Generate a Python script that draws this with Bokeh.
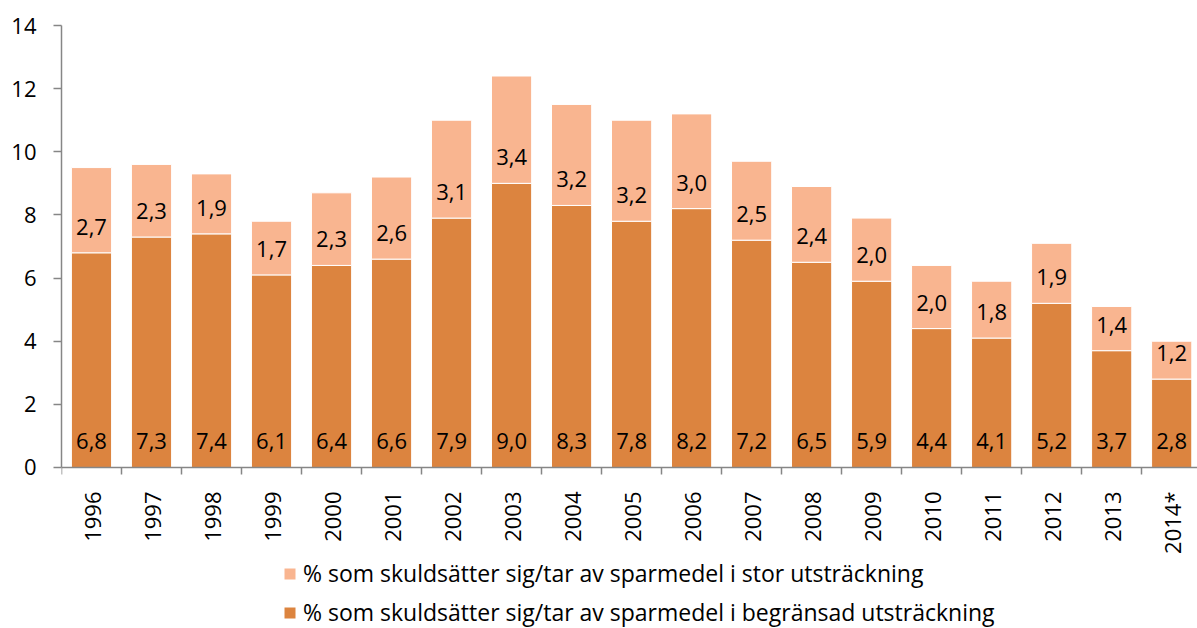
import math
from bokeh.plotting import figure
from bokeh.models import ColumnDataSource, FixedTicker, Legend, LegendItem, LabelSet, Range1d
from bokeh.core.properties import value
from bokeh.embed import file_html
from bokeh.resources import INLINE

years = ["1996", "1997", "1998", "1999", "2000", "2001", "2002", "2003", "2004", "2005",
         "2006", "2007", "2008", "2009", "2010", "2011", "2012", "2013", "2014*"]
limited = [6.8, 7.3, 7.4, 6.1, 6.4, 6.6, 7.9, 9.0, 8.3, 7.8, 8.2, 7.2, 6.5, 5.9, 4.4, 4.1, 5.2, 3.7, 2.8]
large = [2.7, 2.3, 1.9, 1.7, 2.3, 2.6, 3.1, 3.4, 3.2, 3.2, 3.0, 2.5, 2.4, 2.0, 2.0, 1.8, 1.9, 1.4, 1.2]
y_ticks = [0, 2, 4, 6, 8, 10, 12, 14]

name_large = "% som skuldsätter sig/tar av sparmedel i stor utsträckning"
name_limited = "% som skuldsätter sig/tar av sparmedel i begränsad utsträckning"

DARK = "#DC843F"
LIGHT = "#F9B590"
AXIS = "#868686"
FONT = "Open Sans"

xs = [i + 0.5 for i in range(len(years))]
total = [a + b for a, b in zip(limited, large)]
fmt = lambda v: f"{v:.1f}".replace(".", ",")

src = ColumnDataSource(dict(
    x=xs, limited=limited, large=large, total=total,
    zero=[0] * len(xs),
    lab_lim=[fmt(v) for v in limited],
    lab_large=[fmt(v) for v in large],
))

# The plot frame runs down to the bottom edge so that the legend (drawn inside
# the frame) can sit under the x axis, which is pinned at y = 0.
p = figure(width=1197, height=628, output_backend="svg", toolbar_location=None,
           x_range=Range1d(0, 18.93), y_range=Range1d(-5.1, 14),
           min_border_left=61, min_border_right=0, min_border_top=25, min_border_bottom=0)
p.outline_line_color = None
p.xgrid.visible = False
p.ygrid.visible = False
p.background_fill_color = "white"
p.border_fill_color = "white"

r_lim = p.vbar(x="x", bottom="zero", top="limited", width=0.67, source=src,
               fill_color=DARK, line_color="white", line_width=1)
r_large = p.vbar(x="x", bottom="limited", top="total", width=0.67, source=src,
                 fill_color=LIGHT, line_color="white", line_width=1)

for ycol, tcol in (("zero", "lab_lim"), ("limited", "lab_large")):
    ls = LabelSet(x="x", y=ycol, text=tcol, source=src, y_offset=26,
                  text_align="center", text_baseline="middle",
                  text_font=value(FONT), text_font_size="22px", text_color="black")
    p.add_layout(ls)

# x axis, pinned at y = 0
p.xaxis.fixed_location = 0
p.xaxis.ticker = FixedTicker(ticks=xs, minor_ticks=list(range(len(years) + 1)))
p.xaxis.major_label_overrides = {x: y for x, y in zip(xs, years)}
p.xaxis.major_label_orientation = math.pi / 2
p.xaxis.major_tick_line_color = None
p.xaxis.major_tick_out = 0
p.xaxis.major_tick_in = 0
p.xaxis.minor_tick_out = 7
p.xaxis.minor_tick_in = 0
p.xaxis.minor_tick_line_color = AXIS
p.xaxis.minor_tick_line_width = 1.5
p.xaxis.major_label_standoff = 17
p.xaxis.axis_line_color = AXIS
p.xaxis.axis_line_width = 1.5
p.xaxis.major_label_text_font = FONT
p.xaxis.major_label_text_font_size = "22px"
p.xaxis.major_label_text_color = "black"

# y axis
p.yaxis.bounds = (0, 14)
p.yaxis.ticker = FixedTicker(ticks=y_ticks, minor_ticks=[])
p.yaxis.major_tick_out = 8
p.yaxis.major_tick_in = 0
p.yaxis.major_tick_line_color = AXIS
p.yaxis.major_tick_line_width = 1.5
p.yaxis.axis_line_color = AXIS
p.yaxis.axis_line_width = 1.5
p.yaxis.major_label_standoff = 17
p.yaxis.major_label_text_font = FONT
p.yaxis.major_label_text_font_size = "22px"
p.yaxis.major_label_text_color = "black"

legend = Legend(items=[LegendItem(label=name_large, renderers=[r_large]),
                       LegendItem(label=name_limited, renderers=[r_lim])],
                location=(221, 0), orientation="vertical",
                label_text_font=FONT, label_text_font_size="23px", label_text_color="black",
                glyph_width=15, glyph_height=15, label_height=20, label_standoff=6,
                spacing=7, padding=0, margin=0,
                border_line_color=None, background_fill_alpha=0)
p.add_layout(legend, "center")

open("out.html", "w").write(file_html(p, INLINE))
